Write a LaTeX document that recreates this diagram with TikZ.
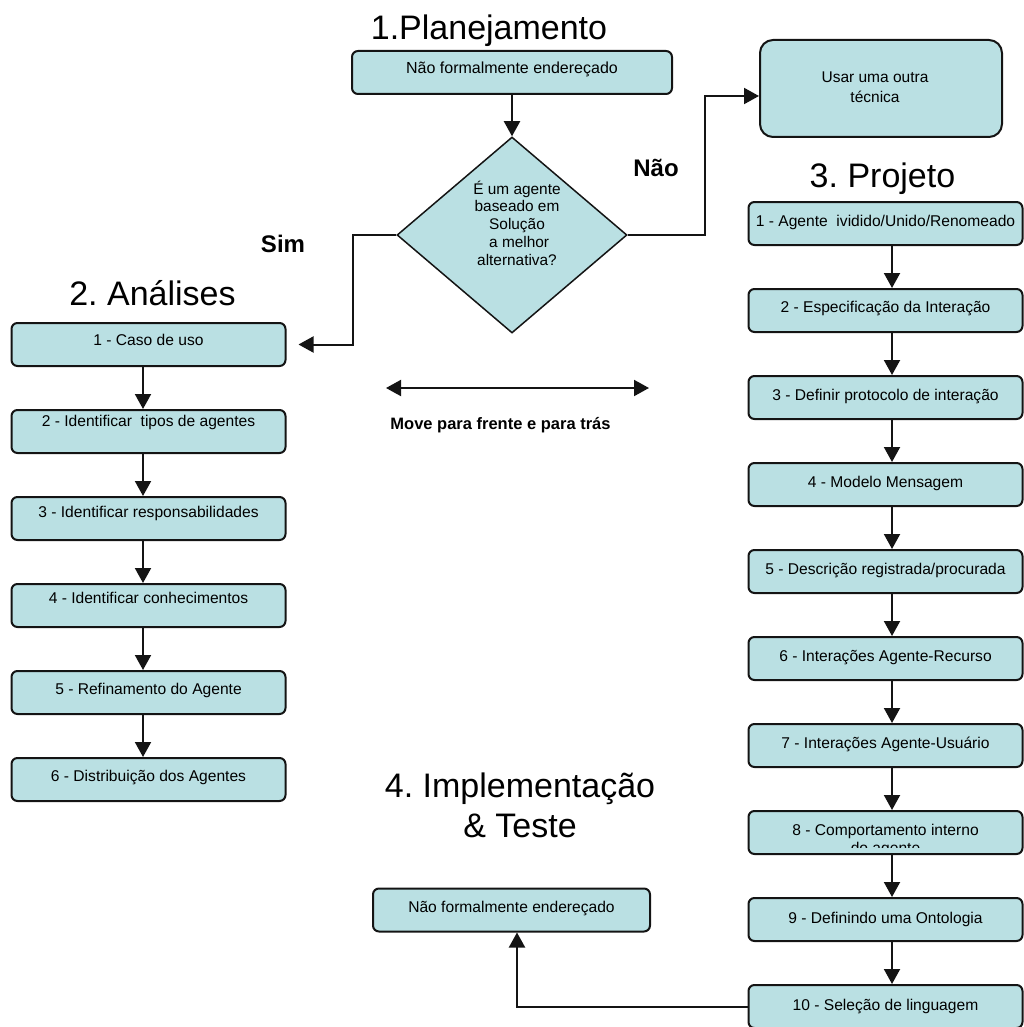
\documentclass[tikz,border=0pt]{standalone}
\usepackage{fontspec}
\setmainfont{Liberation Sans}
\usetikzlibrary{shapes.geometric,arrows.meta,calc}
\frenchspacing
\definecolor{boxfill}{RGB}{186,224,227}
\definecolor{edge}{RGB}{20,20,20}
\newcommand{\boxfont}{\fontsize{15.6}{18}\selectfont}
\newcommand{\titlefont}{\fontsize{34}{40}\selectfont}
\newcommand{\tagfont}{\bfseries\fontsize{24}{28}\selectfont}

\begin{document}
\begin{tikzpicture}[x=1pt,y=-1pt,
  stepbox/.style={draw=edge, line width=2pt, rounded corners=6pt, fill=boxfill,
    minimum height=43pt, inner sep=0pt, font=\boxfont, text height=10pt, text depth=#1},
  stepbox/.default=5.7pt,
  lbox/.style={stepbox=#1, minimum width=274pt},
  lbox/.default=5.7pt,
  pbox/.style={stepbox=#1, minimum width=274pt},
  pbox/.default=3.7pt,
  title/.style={font=\titlefont, inner sep=0pt, anchor=base},
  tag/.style={font=\tagfont, inner sep=0pt, anchor=base},
  arr/.style={draw=edge, line width=2pt, -{Triangle[length=15pt,width=16pt]}},
  arrboth/.style={draw=edge, line width=2pt, {Triangle[length=15pt,width=16pt]}-{Triangle[length=15pt,width=16pt]}}
]
\useasboundingbox (0,0) rectangle (1024,1027);
\clip (0,0) rectangle (1024,1027);

% ---------- 1. Planejamento ----------
\node[title] (t1) at (489,40) {1.Planejamento};
\node[stepbox=7.7pt, minimum width=320pt, font=\fontsize{16}{18}\selectfont] (plan) at (512,72.5) {Não formalmente endereçado};
\node[diamond, draw=edge, line width=1.5pt, fill=boxfill, minimum width=230pt,
      minimum height=196pt, inner sep=0pt] (dec) at (512,235) {};
\node[align=center, font=\fontsize{15.4}{17.75}\selectfont, inner sep=0pt] (dect) at (517,223)
  {É um agente\\baseado em\\Solução\\\ a melhor\\alternativa?};
\draw[arr] (plan.south) -- (dec.north);

\node[draw=edge, line width=2pt, rounded corners=13pt, fill=boxfill,
      minimum width=242pt, minimum height=97pt] (other) at (881,88.5) {};
\node[align=center, font=\fontsize{15.5}{20}\selectfont, inner sep=0pt] (othert) at (875,87)
  {Usar uma outra\\técnica};

\node[tag] (nao) at (656,177) {Não};
\node[tag] (sim) at (283,252) {Sim};

% ---------- 2. Análises ----------
\node[title] (t2) at (152.5,305) {2. Análises};
\node[lbox=7.7pt]  (a1) at (148.5,344.5) {1 - Caso de uso};
\node[lbox=19.7pt] (a2) at (148.5,431.5) {2 - Identificar\ \ tipos de agentes};
\node[lbox=11.7pt] (a3) at (148.5,518.5) {3 - Identificar responsabilidades};
\node[lbox=13.7pt] (a4) at (148.5,605.5) {4 - Identificar conhecimentos};
\node[lbox=5.7pt]  (a5) at (148.5,692.5) {5 - Refinamento do Agente};
\node[lbox=5.7pt]  (a6) at (148.5,779.5) {6 - Distribuição dos Agentes};
\coordinate (lx) at (143,0);
\foreach \i/\j in {a1/a2,a2/a3,a3/a4,a4/a5,a5/a6}
  \draw[arr] (\i.south -| lx) -- (\j.north -| lx);

% ---------- 3. Projeto ----------
\node[title] (t3) at (882.5,187) {3. Projeto};
\node[pbox=3.7pt] (p1)  at (885.5,223.5) {1 - Agente\ \ ividido/Unido/Renomeado};
\node[pbox=5.7pt] (p2)  at (885.5,310.5) {2 - Especificação da Interação};
\node[pbox=3.7pt] (p3)  at (885.5,397.5) {3 - Definir protocolo de interação};
\node[pbox=3.7pt] (p4)  at (885.5,484.5) {4 - Modelo Mensagem};
\node[pbox=3.7pt] (p5)  at (885.5,571.5) {5 - Descrição registrada/procurada};
\node[pbox=4.7pt] (p6)  at (885.5,658.5) {6 - Interações Agente-Recurso};
\node[pbox=4.7pt] (p7)  at (885.5,745.5) {7 - Interações Agente-Usuário};
\node[pbox]       (p8)  at (885.5,832.5) {};
\node[pbox=2.7pt] (p9)  at (885.5,919.5) {9 - Definindo uma Ontologia};
\node[pbox=2.7pt] (p10) at (885.5,1006.5) {10 - Seleção de linguagem};
\begin{scope}
  \clip ([xshift=2pt,yshift=-2pt]p8.north west) rectangle ([xshift=-2pt,yshift=8pt]p8.south east);
  \node[font=\boxfont, inner sep=0pt, anchor=base] (p8a) at (885.5,835.6) {8 - Comportamento interno};
  \node[font=\boxfont, inner sep=0pt, anchor=base] (p8b) at (885.5,853.6) {do agente};
\end{scope}
\coordinate (rx) at (892,0);
\foreach \i/\j in {p1/p2,p2/p3,p3/p4,p4/p5,p5/p6,p6/p7,p7/p8,p8/p9,p9/p10}
  \draw[arr] (\i.south -| rx) -- (\j.north -| rx);

% ---------- decision branches ----------
\coordinate (simj) at (353,344.5);
\draw[arr] (dec.west) -| (simj) -- ([xshift=12pt]a1.east);
\coordinate (naoj) at (705,96);
\draw[arr] (dec.east) -| (naoj) -- (naoj -| other.west);

% ---------- iteration hint ----------
\coordinate (mvl) at (386,388);
\coordinate (mvr) at (649,388);
\draw[arrboth] (mvl) -- (mvr);
\node[font=\bfseries\fontsize{16.5}{19}\selectfont, inner sep=0pt] (mvt) at (500.5,425) {Move para frente e para trás};

% ---------- 4. Implementação & Teste ----------
\node[title] (t4a) at (520,797) {4. Implementação};
\node[title] (t4b) at (520,837) {\& Teste};
\node[stepbox=5.7pt, minimum width=277pt] (impl) at (511.5,910) {Não formalmente endereçado};
\draw[arr] (p10.west) -| ([xshift=5.5pt]impl.south);
\end{tikzpicture}
\end{document}
